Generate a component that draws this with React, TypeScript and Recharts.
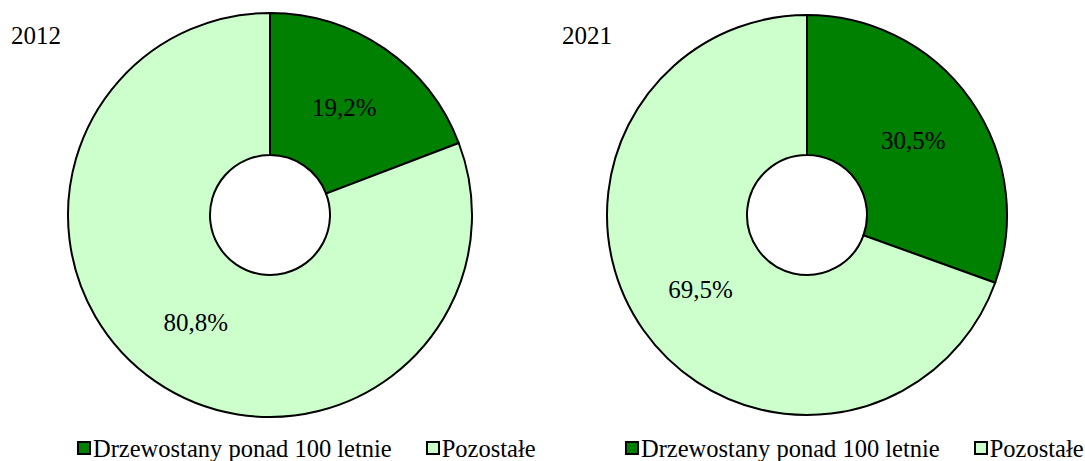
import React from 'react';
import { PieChart, Pie, Cell, Legend } from 'recharts';

// Udział drzewostanów ponad 100-letnich w powierzchni lasów
const categories = ['Drzewostany ponad 100 letnie', 'Pozostałe'];
const years = ['2012', '2021'];
const values2012 = [19.2, 80.8];
const values2021 = [30.5, 69.5];

const COLORS = ['#008000', '#CCFFCC'];
const FONT = "'Liberation Serif', 'Times New Roman', serif";
const RAD = Math.PI / 180;

const fmt = (v: number) => v.toFixed(1).replace('.', ',') + '%';

const renderLabel = (props: any) => {
  const { cx, cy, midAngle, innerRadius, outerRadius, value } = props;
  const r = (innerRadius + outerRadius) / 2;
  const x = cx + r * Math.cos(-midAngle * RAD);
  const y = cy + r * Math.sin(-midAngle * RAD);
  return (
    <text
      x={x}
      y={y}
      textAnchor="middle"
      dominantBaseline="central"
      fill="#000"
      fontFamily={FONT}
      fontSize={25}
      className="donut-label"
    >
      {fmt(value)}
    </text>
  );
};

const LegendBox = () => (
  <div className="donut-legend" style={{ display: 'flex', fontSize: 24.5, lineHeight: '25px', color: '#000' }}>
    {categories.map((name, i) => (
      <div key={name} style={{ display: 'flex', alignItems: 'flex-start', marginRight: i === 0 ? 34 : 0 }}>
        <span
          style={{
            display: 'inline-block',
            width: 10,
            height: 10,
            marginTop: 5,
            marginRight: 2,
            background: COLORS[i],
            border: '2px solid #000',
          }}
        />
        <span style={{ whiteSpace: 'nowrap' }}>{name}</span>
      </div>
    ))}
  </div>
);

function Donut({ title, values, outer, left }: { title: string; values: number[]; outer: number; left: number }) {
  const data = categories.map((name, i) => ({ name, value: values[i] }));
  return (
    <div style={{ position: 'absolute', left, top: 0, width: 540, height: 461 }}>
      <div
        style={{
          position: 'absolute',
          left: left === 0 ? 11 : 25,
          top: 23,
          fontSize: 25,
          lineHeight: '25px',
          zIndex: 2,
        }}
      >
        {title}
      </div>
      <PieChart width={540} height={461} margin={{ top: 0, right: 0, bottom: 0, left: 0 }}>
        <Pie
          data={data}
          dataKey="value"
          cx={270}
          cy={215}
          innerRadius={60}
          outerRadius={outer}
          startAngle={90}
          endAngle={-270}
          stroke="#000"
          strokeWidth={2}
          label={renderLabel}
          labelLine={false}
          isAnimationActive={false}
        >
          {data.map((d, i) => (
            <Cell key={d.name} fill={COLORS[i]} />
          ))}
        </Pie>
        <Legend
          content={() => <LegendBox />}
          wrapperStyle={{ left: left === 0 ? 77 : 88, top: 436, width: 'auto', bottom: 'auto' }}
        />
      </PieChart>
    </div>
  );
}

export default function App() {
  return (
    <div
      style={{
        position: 'absolute',
        left: 0,
        top: 0,
        width: 1085,
        height: 461,
        background: '#fff',
        fontFamily: FONT,
      }}
    >
      <style>{`.donut-legend, .donut-legend *, .donut-label, .recharts-wrapper text { font-family: ${FONT} !important; }`}</style>
      <Donut title={years[0]} values={values2012} outer={202} left={0} />
      <Donut title={years[1]} values={values2021} outer={200} left={537} />
    </div>
  );
}
